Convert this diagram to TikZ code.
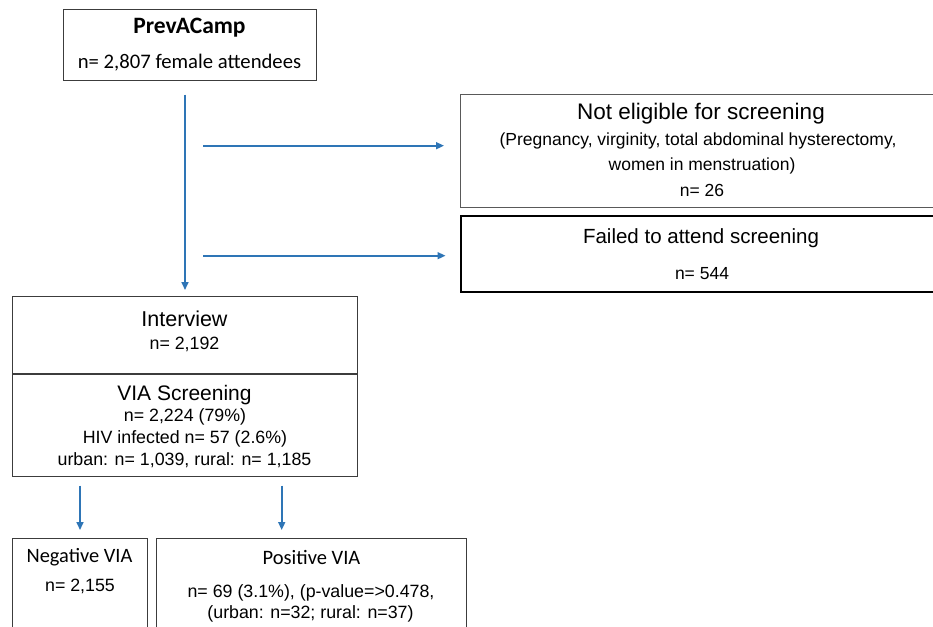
\documentclass[tikz,border=0pt]{standalone}
\usepackage{fontspec}
\setmainfont{Liberation Sans}
\newfontfamily\calibri{Carlito}
\usetikzlibrary{arrows.meta}
\definecolor{arrowblue}{RGB}{46,117,182}
\definecolor{boxgray}{RGB}{60,60,60}
\tikzset{
  box/.style={draw=boxgray, line width=1.3pt, fill=none, rectangle, inner sep=0pt, anchor=north west},
  txt/.style={anchor=base, inner sep=0pt},
  flow/.style={draw=arrowblue, line width=1.6pt, -{Triangle[length=8pt,width=7pt]}},
  fa/.style={font=\fontsize{17.8}{20}\selectfont},
  fb/.style={font=\fontsize{17.5}{20}\selectfont},
}
\begin{document}
\begin{tikzpicture}[x=1pt,y=-1pt]
\useasboundingbox (0,0) rectangle (933,626);
\clip (0,0) rectangle (933,626);
% boxes
\node[box, minimum width=253pt, minimum height=71pt] (topbox) at (63,9) {};
\node[box, draw=black!65, line width=1.2pt, minimum width=490pt, minimum height=113pt] (notelig) at (460,94) {};
\node[box, draw=black, line width=2.4pt, minimum width=490pt, minimum height=76pt] (failed) at (460,215) {};
\node[box, minimum width=345pt, minimum height=180pt] (interview) at (12,296) {};
\node[box, minimum width=135pt, minimum height=120pt] (neg) at (12,538) {};
\node[box, minimum width=310pt, minimum height=120pt] (pos) at (156,538) {};
\coordinate (divL) at (12,374);
\coordinate (divR) at (357,374);
\draw[draw=boxgray, line width=1.3pt] (divL) -- (divR);
% texts
\node[txt, font=\calibri\bfseries\fontsize{23.5}{26}\selectfont] (t1) at (189.5,34) {PrevACamp};
\node[txt, font=\calibri\fontsize{20.7}{24}\selectfont] (t2) at (189.5,68) {n= 2,807 female attendees};
\node[txt, font=\fontsize{22.5}{26}\selectfont] (ne1) at (701,119) {Not eligible for screening};
\node[txt, fb] (ne2) at (698,145) {(Pregnancy, virginity, total abdominal hysterectomy,};
\node[txt, fb] (ne3) at (702,170.5) {women in menstruation)};
\node[txt, fb] (ne4) at (702,196) {n= 26};
\node[txt, font=\fontsize{20.5}{24}\selectfont] (fa1) at (701,243) {Failed to attend screening};
\node[txt, fb] (fa2) at (702,279) {n= 544};
\node[txt, font=\fontsize{21.5}{24}\selectfont] (i1) at (184.5,326.5) {Interview};
\node[txt, fa] (i2) at (184.5,349.3) {n= 2,192};
\node[txt, font=\fontsize{21}{24}\selectfont] (v1) at (184.5,400) {VIA Screening};
\node[txt, fa] (v2) at (185,421.7) {n= 2,224 (79\%)};
\node[txt, fa] (v3) at (185,443.3) {HIV infected n= 57 (2.6\%)};
\node[txt, fa] (v4) at (184.5,465) {urban: n= 1,039, rural: n= 1,185};
\node[txt, font=\calibri\fontsize{20.4}{24}\selectfont] (n1) at (79.5,562.7) {Negative VIA};
\node[txt, fa] (n2) at (80,591.7) {n= 2,155};
\node[txt, font=\calibri\fontsize{20.5}{24}\selectfont] (p1) at (311.5,564.3) {Positive VIA};
\node[txt, fa] (p2) at (311,597.3) {n= 69 (3.1\%), (p-value=>0.478,};
\node[txt, fa] (p3) at (310.5,618.3) {(urban: n=32; rural: n=37)};
% connector ends
\coordinate (a1s) at (185,94.5);
\coordinate (a1e) at (185,290);
\coordinate (a2s) at (203,145.7);
\coordinate (a2e) at (444,145.7);
\coordinate (a3s) at (203,255.7);
\coordinate (a3e) at (445.5,255.7);
\coordinate (a4s) at (80,485.5);
\coordinate (a4e) at (80,530);
\coordinate (a5s) at (281.7,485.5);
\coordinate (a5e) at (281.7,530);
\draw[flow] (a1s) -- (a1e);
\draw[flow] (a2s) -- (a2e);
\draw[flow] (a3s) -- (a3e);
\draw[flow] (a4s) -- (a4e);
\draw[flow] (a5s) -- (a5e);
\end{tikzpicture}
\end{document}
